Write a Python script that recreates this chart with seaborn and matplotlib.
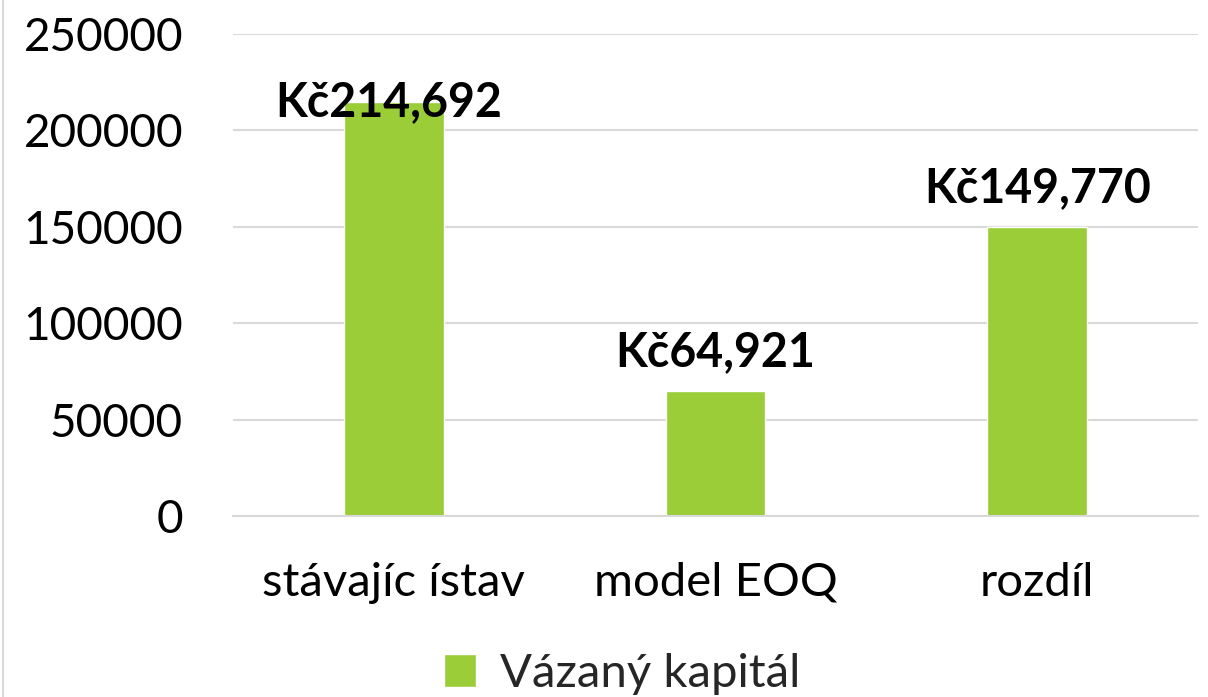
import matplotlib
matplotlib.use("Agg")

import matplotlib.pyplot as plt
import pandas as pd
import seaborn as sns
from matplotlib.lines import Line2D

categories = ["stávajíc ístav", "model EOQ", "rozdíl"]
values = [214692, 64921, 149770]
series_name = "Vázaný kapitál"
y_ticks = [0, 50000, 100000, 150000, 200000, 250000]

GREEN = "#9ACD38"
GRID = "#D9D9D9"

sns.set_theme(style="white")
plt.rcParams["font.family"] = ["Lato", "DejaVu Sans"]

df = pd.DataFrame({"category": categories, "value": values, "series": series_name})

fig = plt.figure(figsize=(12.08, 6.97), dpi=100)
ax = fig.add_axes([233 / 1208, 1 - 516 / 697, (1198 - 233) / 1208, (516 - 34) / 697])

sns.barplot(data=df, x="category", y="value", hue="series", palette=[GREEN],
            width=0.31, saturation=1, ax=ax)

ax.set_ylim(0, 250000)
ax.set_yticks(y_ticks)
ax.set_yticklabels([str(t) for t in y_ticks])
ax.yaxis.grid(True, color=GRID, linewidth=1.5)
ax.set_axisbelow(True)
for side in ["top", "right", "left"]:
    ax.spines[side].set_visible(False)
ax.spines["bottom"].set_color(GRID)
ax.spines["bottom"].set_linewidth(1.5)
ax.tick_params(axis="y", length=0, pad=36, labelsize=33, labelcolor="black")
ax.tick_params(axis="x", length=0, pad=33, labelsize=34, labelcolor="black")
ax.set_xlabel("")
ax.set_ylabel("")

# data labels
for i, v in enumerate(values):
    offset = 0 if v > 200000 else 28
    ax.annotate(f"Kč{v:,}", (i, v), xytext=(-4 if v > 200000 else 0, offset),
                textcoords="offset points", ha="center", va="center",
                fontsize=33.5, fontweight="bold", color="black")

sns.move_legend(ax, "center", bbox_to_anchor=(0.515, 1 - 674 / 697),
                bbox_transform=fig.transFigure, frameon=False, title=None,
                fontsize=34, handlelength=0.68, handleheight=0.68,
                handletextpad=0.5)

# chart area border on the left
fig.add_artist(Line2D([3 / 1208, 3 / 1208], [0, 1], transform=fig.transFigure,
                      color=GRID, linewidth=1.5))

fig.savefig("out.png", dpi=100)
